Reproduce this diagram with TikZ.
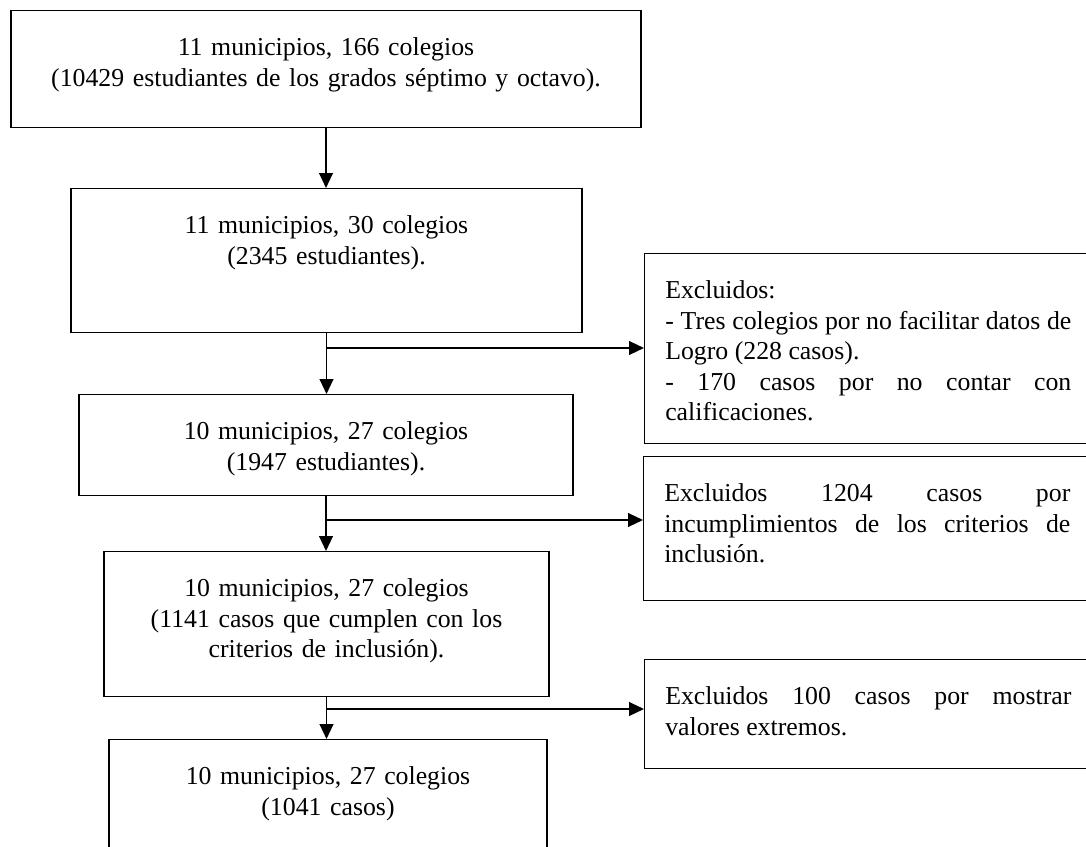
\documentclass[tikz,border=0pt]{standalone}
\usepackage{fontspec}
\setmainfont{Liberation Serif}
\usepackage{tikz}
\usetikzlibrary{positioning}
\usetikzlibrary{arrows.meta}
\tikzset{
    mybox/.style = {rectangle, draw=black, line width=0.6pt, anchor=north, align=center, inner xsep=0pt, inner ysep=0pt, text height=0.72cm, font=\fontsize{11.75}{13.9}\selectfont},
    myexcl/.style = {rectangle, draw=black, line width=0.6pt, anchor=north west, align=justify, text width=6.5cm, inner xsep=0.33cm, inner ysep=0pt, text height=0.72cm, font=\fontsize{11.75}{13.9}\selectfont},
}

\begin{document}
\begin{tikzpicture}[
	x=0.016cm,
	y=-0.016cm
]
\tikzset{
    edgea/.style = {-{Triangle[length=0.24cm,width=0.22cm]}, line width=0.85pt},
    edgen/.style = {-, line width=0.85pt}
}
\useasboundingbox (0,0) rectangle (1086,846);
\clip (0,0) rectangle (1086,846);
\node[mybox, text width=10.08cm, text depth=1.152cm] at (326,10) (m1) {11 municipios, 166 colegios\\(10429 estudiantes de los grados séptimo y octavo).};
\node[mybox, text width=8.176cm, text depth=1.584cm] at (326.5,188) (m2) {11 municipios, 30 colegios\\(2345 estudiantes).};
\node[mybox, text width=7.904cm, text depth=0.896cm] at (326,394) (m3) {10 municipios, 27 colegios\\(1947 estudiantes).};
\node[mybox, text width=7.12cm, text depth=1.6cm] at (326.5,551) (m4) {10 municipios, 27 colegios\\(1141 casos que cumplen con los\\criterios de inclusión).};
\node[mybox, text width=7.008cm, text depth=1.52cm] at (328,739) (m5) {10 municipios, 27 colegios\\(1041 casos)};
%
\node[myexcl, text depth=2.32cm] at (644,253) (e1) {Excluidos:\par - Tres colegios por no facilitar datos de\linebreak Logro (228 casos).\par - 170 casos por no contar con\linebreak calificaciones.};
\node[myexcl, text depth=1.584cm] at (643,456) (e2) {Excluidos 1204 casos por\linebreak incumplimientos de los criterios de\linebreak inclusión.};
\node[myexcl, text depth=1.024cm] at (644,659) (e3) {Excluidos 100 casos por mostrar\linebreak valores extremos.};
%
\coordinate (j2) at (326,348);
\coordinate (j3) at (326,520);
\coordinate (j4) at (326,709);
%
\draw[edgea] (m1.south) -- (m1.south |- m2.north);
\draw[edgea] (m2.south) -- (m2.south |- m3.north);
\draw[edgea] (m3.south) -- (m3.south |- m4.north);
\draw[edgea] (m4.south) -- (m4.south |- m5.north);
%
\draw[edgea] (j2) -- (j2 -| e1.west);
\draw[edgea] (j3) -- (j3 -| e2.west);
\draw[edgea] (j4) -- (j4 -| e3.west);
\end{tikzpicture}
\end{document}
